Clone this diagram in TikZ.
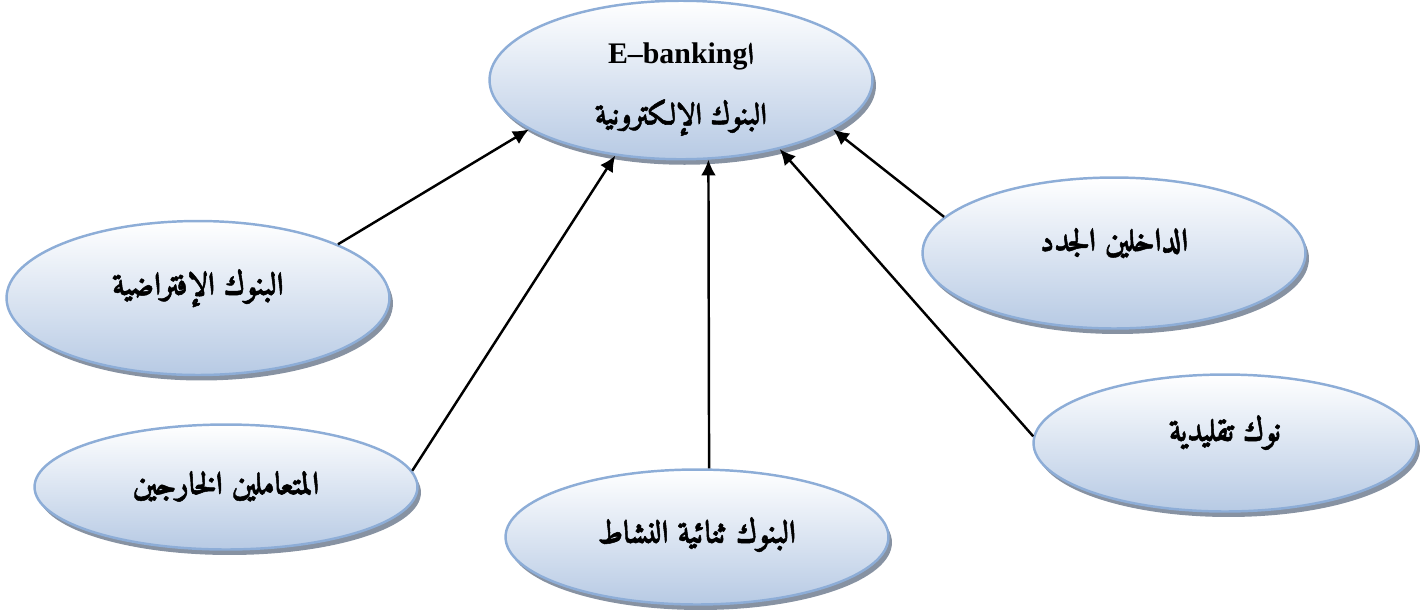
\documentclass[tikz,border=0pt]{standalone}
\usepackage{fontspec}
\setmainfont{Liberation Serif}
\newfontfamily\arabicfont[Script=Arabic, BoldFont={Amiri Bold}, BoldFeatures={FakeBold=1.6}]{Amiri}
\TeXXeTstate=1
\usetikzlibrary{shapes,shadows,arrows.meta}
\definecolor{ovalborder}{RGB}{141,173,215}
\definecolor{ovalbottom}{RGB}{183,202,228}
\definecolor{ovalshadow}{RGB}{122,134,152}
\newcommand{\artext}[1]{{\arabicfont\bfseries\beginR #1\endR}}
\tikzstyle{line} = [draw, line width=1.4pt, -{Latex[length=9pt, width=8.5pt]}]
\tikzstyle{oval} = [ellipse, draw=ovalborder, line width=1.4pt, top color=white, bottom color=ovalbottom, minimum width=7.66cm, minimum height=3.08cm, inner sep=0pt, text centered, drop shadow={shadow xshift=0.07cm, shadow yshift=-0.11cm, fill=ovalshadow, opacity=0.9}, font=\fontsize{18}{20}\selectfont\bfseries]
\begin{document}
\begin{tikzpicture}[x=0.02cm, y=-0.02cm]
	\useasboundingbox (0,0) rectangle (1427,613);
	\node [oval, align=center, font=\fontsize{17}{20}\selectfont\bfseries] (ebank) at (681,80) {\rule{0pt}{0.8cm}E–banking\artext{ا}\\[0.5cm]\artext{البنوك الإلكترونية}};
	
	\node [oval] (virtual) at (198,298) {\raisebox{0.66cm}{\artext{البنوك الإفتراضية}}};
	\node [oval, minimum height=2.5cm] (outer) at (226,487) {\raisebox{0.2cm}{\artext{المتعاملين الخارجين}}};
	\node [oval, minimum height=2.7cm] (dual) at (697,537) {\raisebox{0.3cm}{\artext{البنوك ثنائية النشاط}}};
	\node [oval, minimum height=2.74cm] (traditional) at (1225,443) {\raisebox{0.62cm}{\artext{نوك تقليدية}}};
	\node [oval, minimum height=3.02cm] (newent) at (1114,253) {\raisebox{0.56cm}{\artext{الداخلين الجدد}}};
	
	\path [line] (virtual.21) -- (ebank.198);
	\path [line] (outer.5) -- (ebank.229);
	\path [line] (dual.80) -- (ebank.289);
	\path [line] (traditional.178) -- (ebank.325);
	\path [line] (newent.168) -- (ebank.342);
\end{tikzpicture}
\end{document}
